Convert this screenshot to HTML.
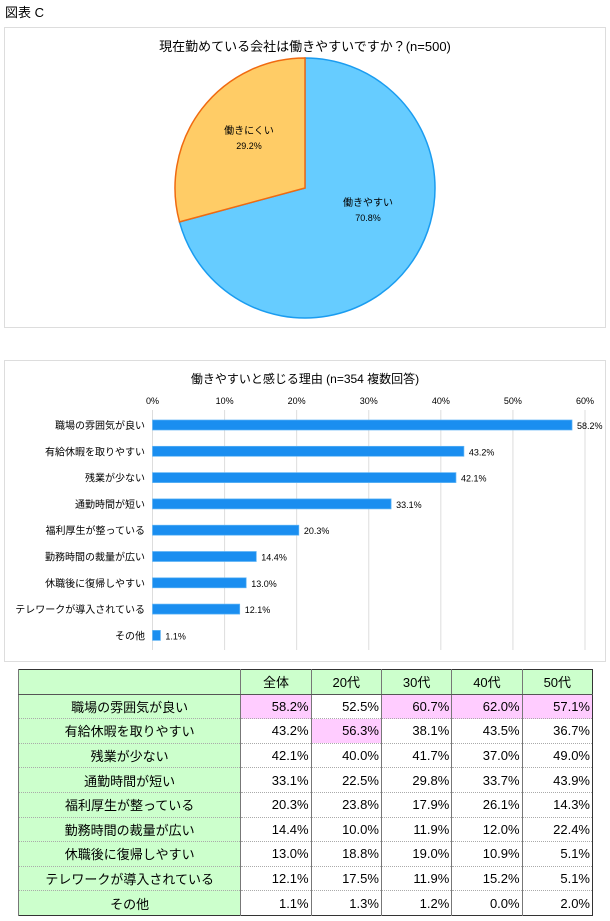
<!DOCTYPE html>
<html><head><meta charset="utf-8"><style>
body{margin:0;width:610px;height:921px;background:#fff;font-family:"Liberation Sans","Noto Sans CJK JP",sans-serif;position:relative;overflow:hidden}
.abs{position:absolute}
table{border-collapse:collapse;position:absolute;left:18px;top:669px;width:575px;font-size:13px;border:1.5px solid #333}
td{height:23.6px;padding:0 2px;border-top:1px dotted #aaa;border-left:1px solid #777}
td.l{background:#ccffcc;text-align:center;width:222px}
td.n{text-align:right;width:66px}
td.p{background:#ffccff}
tr.h td{background:#ccffcc;text-align:center;border-bottom:1px solid #555}
</style></head><body>
<div class="abs" style="left:5px;top:2px;font-size:13px">図表 C</div>
<div class="abs" style="left:4px;top:27px;width:600px;height:299px;border:1px solid #ddd"></div>
<div class="abs" style="left:4px;top:360px;width:600px;height:300px;border:1px solid #ddd"></div>
<svg class="abs" style="left:0;top:0" width="610" height="665" id="svg">
<text x="305" y="51" text-anchor="middle" font-size="13">現在勤めている会社は働きやすいですか？(n=500)</text>
<text x="305" y="383" text-anchor="middle" font-size="12">働きやすいと感じる理由 (n=354 複数回答)</text>
</svg>
<script>
const pieLabels=["働きやすい","働きにくい"];
const pieValues=[70.8,29.2];
const barCats=["職場の雰囲気が良い","有給休暇を取りやすい","残業が少ない","通勤時間が短い","福利厚生が整っている","勤務時間の裁量が広い","休職後に復帰しやすい","テレワークが導入されている","その他"];
const barValues=[58.2,43.2,42.1,33.1,20.3,14.4,13.0,12.1,1.1];
const xTicks=[0,10,20,30,40,50,60];
const svg=document.getElementById('svg');
const NS='http://www.w3.org/2000/svg';
function mk(t,a,p){const e=document.createElementNS(NS,t);for(const k in a)e.setAttribute(k,a[k]);(p||svg).appendChild(e);return e;}
// pie
const cx=305,cy=188,r=130;const cols=[["#66ccff","#1a9cf0"],["#ffcc66","#f06a10"]];
const labOff=[[63,20],[-56,-52]];
let ang=0;const tot=pieValues.reduce((a,b)=>a+b,0);
pieValues.forEach((v,i)=>{const a0=ang,a1=ang+v/tot*2*Math.PI;ang=a1;
const x0=cx+r*Math.sin(a0),y0=cy-r*Math.cos(a0),x1=cx+r*Math.sin(a1),y1=cy-r*Math.cos(a1);
const p=mk('path',{d:`M${cx},${cy}L${x0},${y0}A${r},${r} 0 ${a1-a0>Math.PI?1:0} 1 ${x1},${y1}Z`,fill:cols[i][0],stroke:cols[i][1],'stroke-width':1.5});


const lx=cx+labOff[i][0],ly=cy+labOff[i][1];
const t1=mk('text',{x:lx,y:ly-2,'text-anchor':'middle','font-size':10});t1.textContent=pieLabels[i];


const t2=mk('text',{x:lx,y:ly+13,'text-anchor':'middle','font-size':9});t2.textContent=v.toFixed(1)+'%';


});
// bars
const x0=152.5,xs=(585-152.5)/60;const X=v=>x0+v*xs;const y0=425,dy=26.3;
xTicks.forEach(t=>{const l=mk('line',{x1:X(t),x2:X(t),y1:410,y2:650,stroke:'#ddd'});


const tx=mk('text',{x:X(t),y:404,'text-anchor':'middle','font-size':9});tx.textContent=t+'%';

});
barCats.forEach((c,i)=>{const y=y0+i*dy;
const b=mk('rect',{x:X(0),y:y-5,width:X(barValues[i])-X(0),height:10,fill:'#1a8ef0',stroke:'#5fb4f5','stroke-width':0.7});


const t=mk('text',{x:145,y:y+4,'text-anchor':'end','font-size':10});t.textContent=c;


const v=mk('text',{x:X(barValues[i])+5,y:y+4,'font-size':9});v.textContent=barValues[i].toFixed(1)+'%';

});
</script>
<table>
<tr class="h"><td class="l"></td><td>全体</td><td>20代</td><td>30代</td><td>40代</td><td>50代</td></tr>
<tr><td class="l">職場の雰囲気が良い</td><td class="n p">58.2%</td><td class="n">52.5%</td><td class="n p">60.7%</td><td class="n p">62.0%</td><td class="n p">57.1%</td></tr>
<tr><td class="l">有給休暇を取りやすい</td><td class="n">43.2%</td><td class="n p">56.3%</td><td class="n">38.1%</td><td class="n">43.5%</td><td class="n">36.7%</td></tr>
<tr><td class="l">残業が少ない</td><td class="n">42.1%</td><td class="n">40.0%</td><td class="n">41.7%</td><td class="n">37.0%</td><td class="n">49.0%</td></tr>
<tr><td class="l">通勤時間が短い</td><td class="n">33.1%</td><td class="n">22.5%</td><td class="n">29.8%</td><td class="n">33.7%</td><td class="n">43.9%</td></tr>
<tr><td class="l">福利厚生が整っている</td><td class="n">20.3%</td><td class="n">23.8%</td><td class="n">17.9%</td><td class="n">26.1%</td><td class="n">14.3%</td></tr>
<tr><td class="l">勤務時間の裁量が広い</td><td class="n">14.4%</td><td class="n">10.0%</td><td class="n">11.9%</td><td class="n">12.0%</td><td class="n">22.4%</td></tr>
<tr><td class="l">休職後に復帰しやすい</td><td class="n">13.0%</td><td class="n">18.8%</td><td class="n">19.0%</td><td class="n">10.9%</td><td class="n">5.1%</td></tr>
<tr><td class="l">テレワークが導入されている</td><td class="n">12.1%</td><td class="n">17.5%</td><td class="n">11.9%</td><td class="n">15.2%</td><td class="n">5.1%</td></tr>
<tr><td class="l">その他</td><td class="n">1.1%</td><td class="n">1.3%</td><td class="n">1.2%</td><td class="n">0.0%</td><td class="n">2.0%</td></tr>
</table>
</body></html>
